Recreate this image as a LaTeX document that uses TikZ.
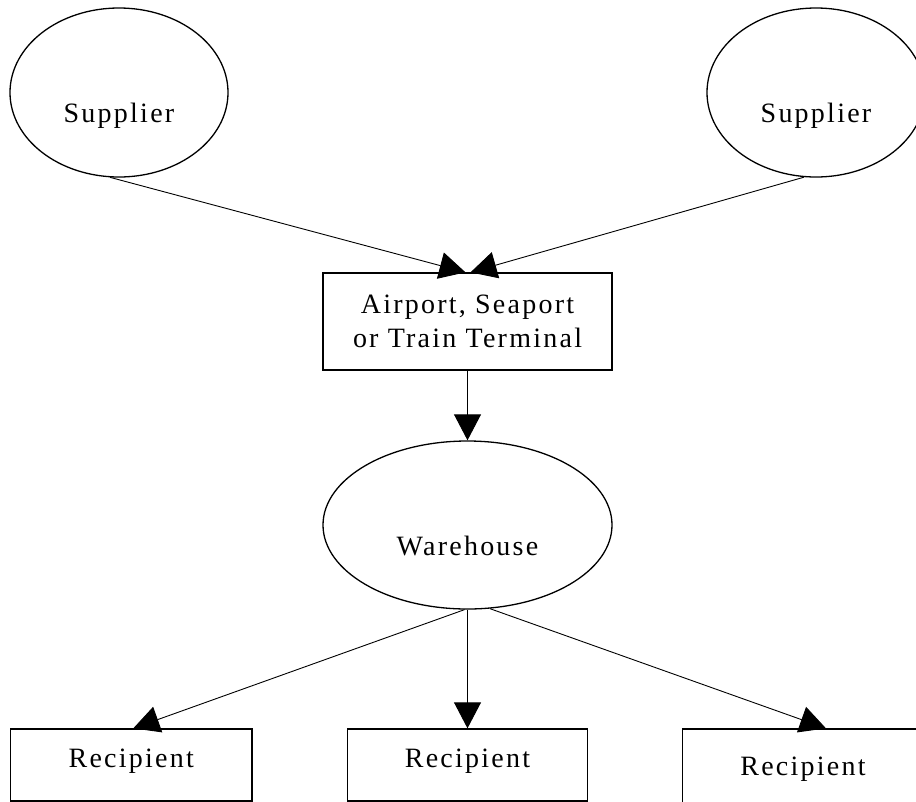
\documentclass[tikz,border=0pt]{standalone}
\usepackage{fontspec}
\setmainfont{Liberation Serif}[LetterSpace=8]
\usetikzlibrary{shapes.geometric,arrows.meta}
\begin{document}
\begin{tikzpicture}[x=1pt, y=-1pt, font=\fontsize{28}{34}\selectfont,
  ell/.style={draw, ellipse, line width=1.3pt, minimum width=218pt, minimum height=169pt, text height=60pt, text depth=0pt},
  box/.style={draw, rectangle, line width=1.3pt, minimum width=241pt, minimum height=72pt},
  rec/.style={box, text height=10pt, text depth=6pt},
  edge/.style={line width=0.9pt, -{Triangle[length=26pt,width=27pt]}}] %{,}
\clip (0,0) rectangle (916,801);
\node[ell] (S_0_0) at (119,92.5) {Supplier};
\node[ell] (S_0_1) at (816,92.5) {Supplier};
\node[box, minimum width=289pt, minimum height=97pt, align=center] (T_0_0) at (467.5,321.5) {Airport, Seaport\\or Train Terminal};
\draw[edge] (S_0_0.-96) -- ([xshift=-2pt]T_0_0.north);
\draw[edge] (S_0_1.-98) -- ([xshift=3pt]T_0_0.north);
\node[ell, minimum width=289pt, minimum height=168pt] (W_0_0) at (467.5,525) {Warehouse};
\draw[edge] (T_0_0) -- (W_0_0);
\node[rec, minimum width=241.5pt] (R_0_0) at (131.25,765) {Recipient};
\draw[edge] (W_0_0.-92) -- ([xshift=2pt]R_0_0.north);
\node[rec, minimum width=240pt] (R_0_1) at (467.5,765) {Recipient};
\draw[edge] (W_0_0) -- (R_0_1);
\node[rec, minimum height=88pt] (R_0_2) at (803,773) {Recipient};
\draw[edge] (W_0_0.-75) -- ([xshift=23pt]R_0_2.north);
\end{tikzpicture}
\end{document}
